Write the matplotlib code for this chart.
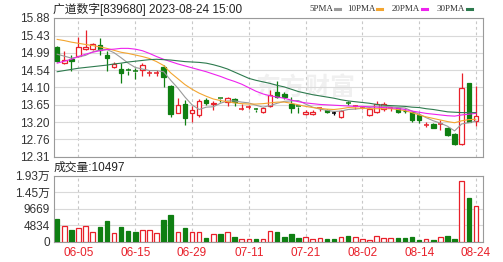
import numpy as np
import matplotlib.pyplot as plt
from matplotlib.lines import Line2D

plt.rcParams['font.family'] = ['Liberation Sans', 'Noto Sans CJK SC']

dates = ['05-31', '06-01', '06-02', '06-05', '06-06', '06-07', '06-08', '06-09', '06-12', '06-13',
         '06-14', '06-15', '06-16', '06-19', '06-20', '06-21', '06-26', '06-27', '06-28', '06-29',
         '06-30', '07-03', '07-04', '07-05', '07-06', '07-07', '07-10', '07-11', '07-12', '07-13',
         '07-14', '07-17', '07-18', '07-19', '07-20', '07-21', '07-24', '07-25', '07-26', '07-27',
         '07-28', '07-31', '08-01', '08-02', '08-03', '08-04', '08-07', '08-08', '08-09', '08-10',
         '08-11', '08-14', '08-15', '08-16', '08-17', '08-18', '08-21', '08-22', '08-23', '08-24']

opens = [15.13, 14.73, 14.82, 14.90, 15.08, 15.08, 15.19, 14.93, 14.62, 14.57,
         14.54, 14.51, 14.54, 14.47, 14.47, 14.61, 14.13, 13.45, 13.68, 13.43,
         13.40, 13.77, 13.67, 13.82, 13.71, 13.80, 13.53, 13.59, 13.53, 13.47,
         13.63, 13.97, 13.94, 13.67, 13.61, 13.41, 13.41, 13.56, 13.52, 13.45,
         13.35, 13.70, 13.60, 13.56, 13.39, 13.47, 13.53, 13.57, 13.56, 13.50,
         13.47, 13.39, 13.13, 13.17, 13.16, 13.06, 12.90, 12.65, 14.22, 13.24]
highs = [15.16, 15.03, 14.93, 15.40, 15.57, 15.24, 15.37, 15.04, 14.76, 14.72,
         14.60, 14.60, 14.72, 14.54, 14.54, 14.67, 14.16, 13.82, 13.78, 13.63,
         13.79, 13.82, 13.75, 13.82, 13.84, 13.82, 13.68, 13.64, 13.57, 13.60,
         14.03, 14.26, 13.97, 13.86, 13.63, 13.52, 13.52, 13.58, 13.55, 13.50,
         13.52, 13.74, 13.65, 13.62, 13.56, 13.74, 13.71, 13.60, 13.58, 13.56,
         13.50, 13.43, 13.20, 13.19, 13.25, 13.08, 12.92, 14.47, 14.22, 14.13]
lows = [14.75, 14.71, 14.53, 14.88, 15.05, 15.05, 14.93, 14.53, 14.60, 14.22,
        14.42, 14.31, 14.39, 14.39, 14.40, 14.11, 13.35, 13.44, 13.12, 13.21,
        13.34, 13.64, 13.51, 13.72, 13.62, 13.62, 13.52, 13.53, 13.46, 13.45,
        13.60, 13.83, 13.80, 13.43, 13.43, 13.39, 13.39, 13.50, 13.44, 13.39,
        13.31, 13.64, 13.55, 13.53, 13.37, 13.45, 13.50, 13.50, 13.45, 13.43,
        13.22, 13.18, 13.08, 13.05, 13.00, 12.85, 12.62, 12.63, 13.20, 13.10]
closes = [14.77, 14.80, 14.78, 15.13, 15.13, 15.20, 15.06, 14.85, 14.70, 14.47,
          14.53, 14.50, 14.67, 14.48, 14.48, 14.36, 13.42, 13.65, 13.32, 13.52,
          13.75, 13.69, 13.70, 13.81, 13.82, 13.72, 13.54, 13.60, 13.52, 13.57,
          13.90, 13.86, 13.84, 13.58, 13.60, 13.47, 13.47, 13.57, 13.46, 13.45,
          13.48, 13.69, 13.61, 13.57, 13.53, 13.68, 13.66, 13.58, 13.46, 13.48,
          13.27, 13.26, 13.14, 13.06, 13.17, 12.88, 12.64, 14.07, 13.21, 13.36]
volumes = [6650, 4690, 3520, 4010, 4690, 2840, 4400, 6150, 2550, 4400,
           3130, 2720, 3430, 3430, 2550, 6450, 7820, 2930, 3900, 2840,
           2840, 1170, 2340, 2340, 2840, 1380, 880, 790, 780, 780,
           3030, 2830, 1270, 2250, 1080, 1270, 880, 980, 780, 780,
           1270, 1760, 1270, 780, 490, 1760, 1170, 1080, 1080, 1080,
           1270, 390, 680, 490, 1270, 1560, 780, 17700, 12800, 10497]

ma5 = [14.95, 14.90, 14.85, 14.88, 14.92, 15.01, 15.06, 15.07, 14.99, 14.86,
       14.72, 14.61, 14.57, 14.53, 14.53, 14.50, 14.28, 14.08, 13.85, 13.65,
       13.53, 13.59, 13.60, 13.69, 13.75, 13.75, 13.72, 13.70, 13.64, 13.59,
       13.63, 13.69, 13.74, 13.75, 13.76, 13.67, 13.59, 13.54, 13.51, 13.48,
       13.49, 13.53, 13.54, 13.56, 13.58, 13.62, 13.61, 13.60, 13.58, 13.57,
       13.49, 13.41, 13.32, 13.24, 13.18, 13.10, 12.98, 13.16, 13.19, 13.23]
ma10 = [15.33, 15.30, 15.26, 15.23, 15.20, 15.17, 15.14, 15.10, 15.05, 15.00,
        14.97, 14.93, 14.89, 14.84, 14.76, 14.66, 14.47, 14.32, 14.17, 14.05,
        13.95, 13.87, 13.80, 13.76, 13.73, 13.70, 13.68, 13.67, 13.67, 13.68,
        13.70, 13.72, 13.72, 13.69, 13.65, 13.61, 13.58, 13.56, 13.54, 13.53,
        13.55, 13.58, 13.57, 13.56, 13.55, 13.55, 13.55, 13.55, 13.53, 13.50,
        13.45, 13.39, 13.34, 13.30, 13.26, 13.22, 13.19, 13.24, 13.27, 13.28]
ma20 = [14.72, 14.77, 14.82, 14.89, 14.95, 15.00, 15.04, 15.07, 15.08, 15.10,
        15.10, 15.08, 15.04, 14.97, 14.89, 14.82, 14.76, 14.70, 14.65, 14.60,
        14.55, 14.50, 14.44, 14.38, 14.31, 14.25, 14.18, 14.09, 14.00, 13.93,
        13.88, 13.85, 13.82, 13.77, 13.73, 13.70, 13.68, 13.66, 13.65, 13.64,
        13.63, 13.62, 13.61, 13.61, 13.60, 13.59, 13.58, 13.57, 13.56, 13.53,
        13.49, 13.46, 13.43, 13.41, 13.39, 13.37, 13.36, 13.39, 13.41, 13.43]
ma30 = [14.50, 14.53, 14.56, 14.59, 14.61, 14.63, 14.65, 14.67, 14.70, 14.72,
        14.75, 14.77, 14.79, 14.81, 14.82, 14.81, 14.80, 14.78, 14.76, 14.75,
        14.74, 14.72, 14.68, 14.63, 14.57, 14.49, 14.41, 14.33, 14.28, 14.24,
        14.20, 14.15, 14.11, 14.05, 13.99, 13.95, 13.91, 13.88, 13.85, 13.82,
        13.78, 13.75, 13.73, 13.71, 13.69, 13.66, 13.64, 13.63, 13.62, 13.61,
        13.59, 13.58, 13.55, 13.53, 13.50, 13.47, 13.46, 13.45, 13.45, 13.45]

price_ticks = [12.31, 12.76, 13.20, 13.65, 14.10, 14.54, 14.99, 15.43, 15.88]
vol_ticks = [0, 4834, 9669, 14503, 19338]
vol_labels = ['0', '4834', '9669', '1.45万', '1.93万']
date_idx = [3, 11, 19, 27, 35, 43, 51, 59]

RED = '#e8202a'
GREEN = '#0f7f12'
W, H = 503, 262

fig = plt.figure(figsize=(W / 100, H / 100), dpi=100)
ax = fig.add_axes([54 / W, 1 - 157 / H, 429 / W, 139 / H])
axv = fig.add_axes([54 / W, 1 - 241.7 / H, 429 / W, 66 / H])

x = np.arange(len(dates))

# faint watermark behind the candles
ax.text(35, 14.1, '东方财富', fontsize=18, color='#f0f0f0', ha='center', va='center',
        family='Noto Sans CJK SC', fontweight='bold', zorder=0)

for i in x:
    o, h, l, c = opens[i], highs[i], lows[i], closes[i]
    if c > o:
        col, face = RED, 'white'
    elif c < o:
        col, face = GREEN, GREEN
    else:
        col, face = 'black', 'black'
    top, bot = max(o, c), min(o, c)
    ax.vlines(i, top, h, color=col, lw=0.9, zorder=3)
    ax.vlines(i, l, bot, color=col, lw=0.9, zorder=3)
    if top - bot < 0.015:
        ax.hlines(top, i - 0.33, i + 0.33, color=col, lw=1.1, zorder=3)
    else:
        ax.bar(i, top - bot, bottom=bot, width=0.64, facecolor=face, edgecolor=col, lw=0.9, zorder=3)

    vcol = RED if c > o else GREEN
    vface = 'white' if c > o else GREEN
    axv.bar(i, volumes[i], width=0.64, facecolor=vface, edgecolor=vcol, lw=0.9, zorder=3)

ax.plot(x, ma5, color='#9a9a9a', lw=0.8, zorder=4)
ax.plot(x, ma10, color='#f3a530', lw=0.8, zorder=4)
ax.plot(x, ma20, color='#ee22ee', lw=0.8, zorder=4)
ax.plot(x, ma30, color='#2d7a4e', lw=0.8, zorder=4)

for a in (ax, axv):
    a.set_xlim(-0.45, 60.0)
    for s in a.spines.values():
        s.set_color('#9a9a9a')
        s.set_linewidth(0.8)
    a.tick_params(length=0, labelsize=8.5, colors='#333333', pad=3)
    for xi in date_idx:
        a.axvline(xi, color='#c8c8c8', lw=0.8, ls=(0, (2.5, 2.5)), zorder=1)

ax.set_ylim(price_ticks[0], price_ticks[-1])
ax.set_yticks(price_ticks)
ax.set_yticklabels(['%.2f' % v for v in price_ticks])
ax.set_xticks([])
ax.grid(axis='y', color='#d9d9d9', lw=0.8, zorder=1)

axv.set_ylim(0, vol_ticks[-1])
axv.set_yticks(vol_ticks)
axv.set_yticklabels(vol_labels)
axv.grid(axis='y', color='#d9d9d9', lw=0.8, zorder=1)
axv.set_xticks(date_idx)
axv.set_xticklabels([dates[i] for i in date_idx], color=RED, fontsize=8.5)
axv.tick_params(axis='x', pad=4)

fig.text(53 / W, 1 - 9 / H, '广道数字[839680] 2023-08-24 15:00', fontsize=8.5,
         color='#222222', va='center', ha='left')
fig.text(54 / W, 1 - 168 / H, '成交量:10497', fontsize=8.5, color='#222222',
         va='center', ha='left')

legend = [('5PMA', '#9a9a9a', 309), ('10PMA', '#f3a530', 347),
          ('20PMA', '#ee22ee', 392), ('30PMA', '#2d7a4e', 437)]
for name, col, px in legend:
    t = fig.text(px / W, 1 - 9 / H, name, fontsize=6.5, color='#333333',
                 va='center', ha='left', family='Liberation Serif')
    fig.canvas.draw()
    bb = t.get_window_extent()
    x0 = bb.x1 + 2
    fig.add_artist(Line2D([x0 / W, (x0 + 5) / W], [1 - 9 / H, 1 - 9 / H],
                          transform=fig.transFigure, color=col, lw=2.2))

fig.savefig('out.png', dpi=100)
